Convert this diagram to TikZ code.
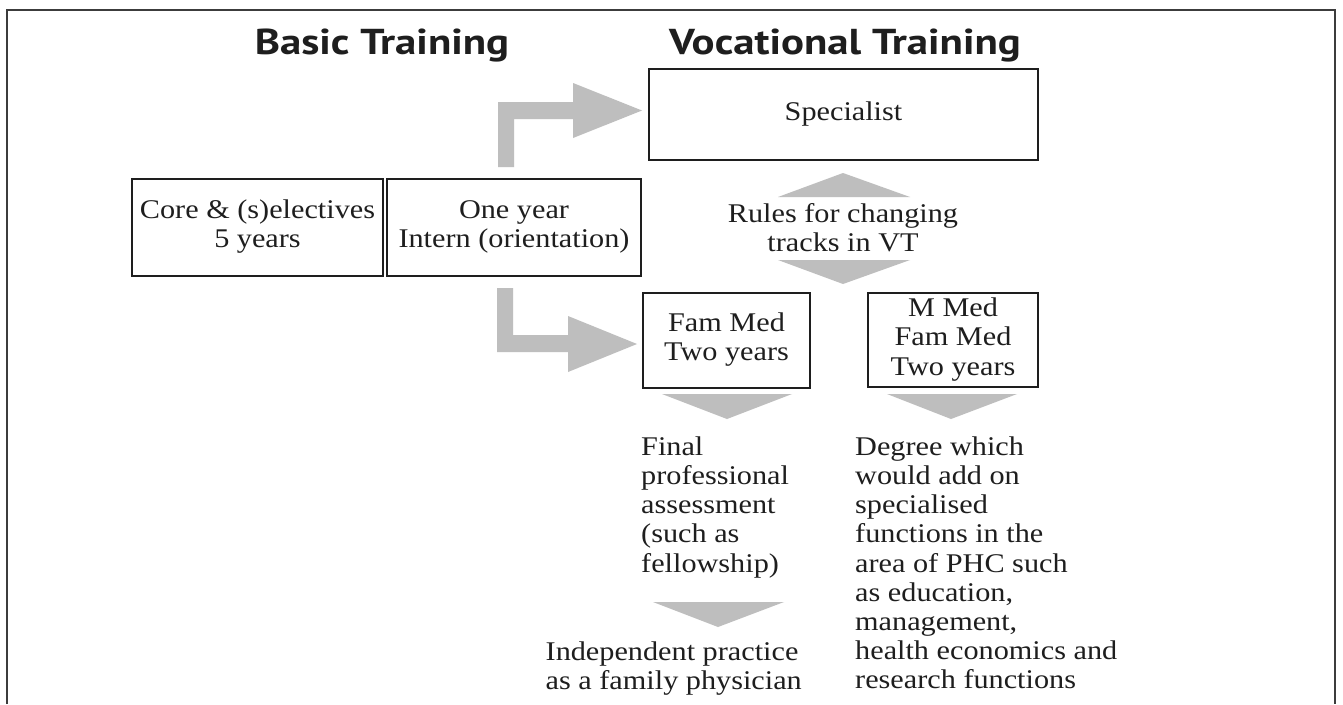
\documentclass[tikz,border=0pt]{standalone}
\usepackage{fontspec}
\setmainfont[FakeStretch=1.12]{Liberation Serif}
\newfontfamily\ttlfont[FakeStretch=1.19]{PT Sans}
\newcommand\bdfont{\fontsize{27}{29.2}\selectfont}
\definecolor{arrowgray}{RGB}{190,190,190}
\definecolor{inkcol}{RGB}{30,30,30}
\definecolor{framecol}{RGB}{60,60,60}
\begin{document}
\begin{tikzpicture}[x=1pt,y=-1pt,
  box/.style={draw=inkcol, line width=2.4pt, inner sep=0pt, align=center, font=\bdfont, text=inkcol},
  txt/.style={inner sep=0pt, font=\bdfont, text=inkcol},
  ttl/.style={inner sep=0pt, font=\ttlfont\bfseries\fontsize{36}{40}\selectfont, text=inkcol},
  shade/.style={fill=arrowgray, draw=none}]
\useasboundingbox (0,0) rectangle (1343,704);
\fill[white] (0,0) rectangle (1343,704);
% frame
\draw[framecol, line width=1.5pt] (7,704) -- (7,10) -- (1335,10) -- (1335,704);
% titles
\node[ttl, anchor=base] (basic) at (382,54) {Basic Training};
\node[ttl, anchor=base] (voc) at (845,54) {Vocational Training};
% boxes
\node[box, minimum width=251pt, minimum height=97pt] (core) at (257.5,227.5) {\strut Core \& (s)electives\\\strut 5 years};
\node[box, minimum width=254pt, minimum height=97pt] (intern) at (514,227.5) {\strut One year\\\strut Intern (orientation)};
\node[box, minimum width=389pt, minimum height=91pt] (spec) at (843.5,114.5) {\raisebox{3pt}{\strut Specialist}};
\node[box, minimum width=167pt, minimum height=95pt] (fam) at (726.5,340.5) {\strut Fam Med\\\strut Two years};
\node[box, minimum width=170pt, minimum height=94pt] (mmed) at (953,340) {\strut M Med\\\strut Fam Med\\\strut Two years};
% free texts
\node[txt, align=center, anchor=north] (rules) at (843,202) {\strut Rules for changing\\tracks in VT};
\node[txt, align=left, anchor=north west] (final) at (641,434.6) {\strut Final\\professional\\assessment\\(such as\\fellowship)};
\node[txt, align=left, anchor=north west] (degree) at (855,434.6) {\strut Degree which\\would add on\\specialised\\functions in the\\area of PHC such\\as education,\\management,\\health economics and\\research functions};
\node[txt, align=left, anchor=north east] (indep) at (802,639.6) {\strut Independent practice\\as a family physician};
% bent arrows
\fill[shade] (498,167) -- (514,167) -- (514,119) -- (573,119) -- (573,138) -- (642,110.5) -- (573,83) -- (573,102) -- (498,102) -- cycle;
\fill[shade] (497,288) -- (513,288) -- (513,335) -- (568,335) -- (568,316) -- (637,344) -- (568,372) -- (568,352) -- (497,352) -- cycle;
% triangles
\fill[shade] (778,197) -- (843,173) -- (910,197) -- cycle;
\fill[shade] (778,260) -- (843,284) -- (910,260) -- cycle;
\fill[shade] (662,394) -- (727,419) -- (792,394) -- cycle;
\fill[shade] (887,394) -- (951,419) -- (1017,394) -- cycle;
\fill[shade] (653,602) -- (718,627) -- (784,602) -- cycle;
\end{tikzpicture}
\end{document}
